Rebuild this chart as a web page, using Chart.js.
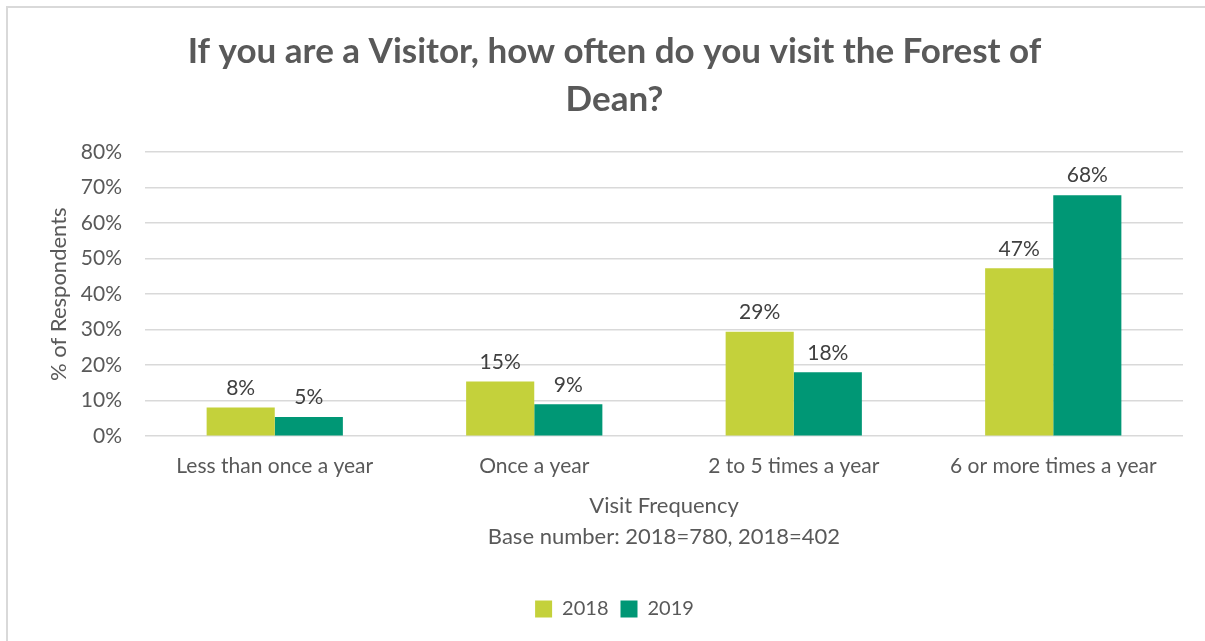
<!DOCTYPE html>
<html>
<head>
<meta charset="utf-8">
<script src="https://cdn.jsdelivr.net/npm/chart.js@4"></script>
<style>
  body { margin: 0; background: #fff; overflow: hidden; }
  #wrap { position: absolute; left: 0; top: 0; width: 1205px; height: 641px; }
  #frame { position: absolute; left: 6px; top: 6px; width: 1300px; height: 800px; border: 2px solid #d9d9d9; pointer-events: none; }
</style>
</head>
<body>
<div id="wrap"><canvas id="grafico" width="1205" height="641"></canvas></div>
<div id="frame"></div>
<script>
  const categorias = ['Less than once a year', 'Once a year', '2 to 5 times a year', '6 or more times a year'];
  const valores2018 = [8.1, 15.4, 29.4, 47.3];
  const valores2019 = [5.4, 9.0, 18.0, 67.9];
  const ticksY = [0, 10, 20, 30, 40, 50, 60, 70, 80];

  const cinza = '#595959';
  const fonte = 'Lato, "Open Sans", sans-serif';

  // rotulos de valor em cima das barras
  const rotulos = {
    id: 'rotulos',
    afterDatasetsDraw(chart) {
      const ctx = chart.ctx;
      ctx.save();
      ctx.font = '21px ' + fonte;
      ctx.fillStyle = '#404040';
      ctx.textAlign = 'center';
      ctx.textBaseline = 'bottom';
      chart.data.datasets.forEach((ds, i) => {
        chart.getDatasetMeta(i).data.forEach((bar, j) => {
          ctx.fillText(Math.round(ds.data[j]) + '%', bar.x, bar.y - 9);
        });
      });
      ctx.restore();
    }
  };

  const ctx = document.getElementById('grafico').getContext('2d');
  const grafico = new Chart(ctx, {
    type: 'bar',
    data: {
      labels: categorias,
      datasets: [{
        label: '2018',
        data: valores2018,
        backgroundColor: '#c4d13b',
        categoryPercentage: 0.525,
        barPercentage: 1
      }, {
        label: '2019',
        data: valores2019,
        backgroundColor: '#009775',
        categoryPercentage: 0.525,
        barPercentage: 1
      }]
    },
    options: {
      responsive: false,
      animation: false,
      layout: { padding: { left: 46, right: 22, top: 24, bottom: 12 } },
      plugins: {
        legend: {
          display: true,
          position: 'bottom',
          labels: {
            color: cinza,
            font: { family: fonte, size: 20 },
            boxWidth: 17,
            boxHeight: 17,
            padding: 12
          }
        },
        title: {
          display: true,
          text: ['If you are a Visitor, how often do you visit the Forest of', 'Dean?'],
          color: cinza,
          font: { family: fonte, size: 35, weight: 'bold', lineHeight: 1.36 },
          padding: { top: 4, bottom: 29 }
        },
        tooltip: { enabled: false }
      },
      scales: {
        x: {
          grid: { display: false },
          border: { display: false },
          ticks: { color: cinza, font: { family: fonte, size: 21 }, padding: 9 },
          title: {
            display: true,
            text: ['Visit Frequency', 'Base number: 2018=780, 2018=402'],
            color: cinza,
            font: { family: fonte, size: 22, lineHeight: 1.4 },
            padding: { top: 3, bottom: 35 }
          }
        },
        y: {
          min: 0,
          max: 80,
          afterBuildTicks(axis) { axis.ticks = ticksY.map(v => ({ value: v })); },
          afterFit(axis) { axis.width = 99; },  // largura fixa do eixo
          grid: { color: '#d9d9d9', lineWidth: 1.5, drawTicks: false },
          border: { display: false },
          ticks: {
            color: cinza,
            font: { family: fonte, size: 21 },
            padding: 23,
            callback: v => v + '%'
          },
          title: {
            display: true,
            text: '% of Respondents',
            color: cinza,
            font: { family: fonte, size: 22 },
            padding: { top: 0, bottom: 0 }
          }
        }
      }
    },
    plugins: [rotulos]
  });
</script>
</body>
</html>
